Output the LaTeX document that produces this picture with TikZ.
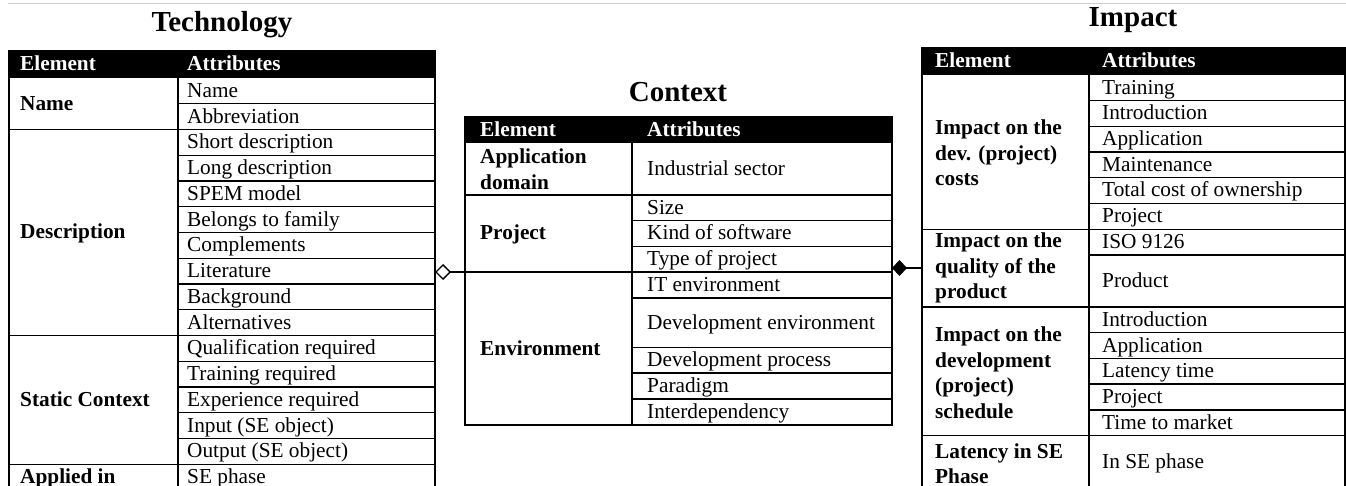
\documentclass[tikz,border=0pt]{standalone}
\usepackage{fontspec}
\setmainfont{Liberation Serif}
\usetikzlibrary{arrows.meta}
\begin{document}
\begin{tikzpicture}[x=1pt,y=-1pt,
  tbl/.style={line width=1.3pt},
  attr/.style={anchor=base west, inner sep=0pt, font=\fontsize{21.3}{25.5}\selectfont},
  elemone/.style={anchor=base west, inner sep=0pt, font=\fontsize{21.3}{25.5}\selectfont\bfseries},
  elemm/.style={anchor=west, inner sep=0pt, align=left, font=\fontsize{21.3}{25.5}\selectfont\bfseries},
  hdr/.style={anchor=base west, inner sep=0pt, text=white, font=\fontsize{21.3}{25.5}\selectfont\bfseries},
  ttl/.style={inner sep=0pt, font=\fontsize{29}{34}\selectfont\bfseries},
  conn/.style={line width=1.3pt},
]
\useasboundingbox (0,0) rectangle (1346,486);
\clip (0,0) rectangle (1346,486);
\draw[black!20, line width=1pt] (8,4) -- (1346,4);

% ---------------- Technology ----------------
\node[ttl] (ttech) at (222,25) {Technology};
\fill (9,51) rectangle (435,78);
\node[hdr] (the) at (20,71) {Element};
\node[hdr] (tha) at (187,71) {Attributes};
\draw[tbl] (9,51) rectangle (435,492);
\draw[tbl] (178,51) -- (178,492);
\foreach \y in {129.5,335.5,464.25} \draw[tbl] (9,\y) -- (435,\y);
\foreach \y in {103.75,155.25,181,206.75,232.5,258.25,284,309.75,361.25,387,412.75,438.5}
  \draw[tbl] (178,\y) -- (435,\y);
\foreach \t [count=\i from 0] in {Name,Abbreviation,Short description,Long description,SPEM model,Belongs to family,Complements,Literature,Background,Alternatives,Qualification required,Training required,Experience required,{Input (SE object)},{Output (SE object)},SE phase}
  \node[attr] (ta\i) at (187,{78+25.75*\i+12.875+6.5}) {\t};
\node[elemone] (te1) at (20,110.25) {Name};
\node[elemone] (te2) at (20,239) {Description};
\node[elemone] (te3) at (20,406.4) {Static Context};
\node[elemone] (te4) at (20,483.6) {Applied in};

% ---------------- Context ----------------
\node[ttl] (tctx) at (678,92) {Context};
\fill (465,117) rectangle (892,143);
\node[hdr] (che) at (480,136.5) {Element};
\node[hdr] (cha) at (647,136.5) {Attributes};
\draw[tbl] (465,117) rectangle (892,425);
\draw[tbl] (632,117) -- (632,425);
\foreach \y in {195,272} \draw[tbl] (465,\y) -- (892,\y);
\foreach \y in {220.7,246.3,298,347.5,373,399} \draw[tbl] (632,\y) -- (892,\y);
\foreach \t/\yy [count=\i] in {Industrial sector/175.5,Size/214.35,Kind of software/240,Type of project/265.65,IT environment/291.5,Development environment/329.25,Development process/366.75,Paradigm/392.5,Interdependency/418.5}
  \node[attr] (ca\i) at (647,\yy) {\t};
\node[elemm] (ce1) at (480,169) {Application\\domain};
\node[elemone] (ce2) at (480,240) {Project};
\node[elemone] (ce3) at (480,355) {Environment};

% ---------------- Impact ----------------
\node[ttl] (timp) at (1133,20) {Impact};
\fill (922,48) rectangle (1345,75);
\node[hdr] (ihe) at (935,68) {Element};
\node[hdr] (iha) at (1102,68) {Attributes};
\draw[tbl] (922,48) rectangle (1345,490);
\draw[tbl] (1089,48) -- (1089,490);
\foreach \y in {229.5,307,435.7} \draw[tbl] (922,\y) -- (1345,\y);
\foreach \y in {100.7,126.3,152,177.7,203.3,255,332.7,358.4,384,410} \draw[tbl] (1089,\y) -- (1345,\y);
\foreach \t/\yy [count=\i] in {Training/94.35,Introduction/120,Application/145.65,Maintenance/171.35,Total cost of ownership/197,Project/222.9,ISO 9126/248.75,Product/287.5,Introduction/326.35,Application/352.05,Latency time/377.7,Project/403.5,Time to market/429.35,In SE phase/468.35}
  \node[attr] (ia\i) at (1102,\yy) {\t};
\node[elemm] (ie1) at (935,153) {Impact on the\\dev. (project)\\costs};
\node[elemm] (ie2) at (935,268.25) {Impact on the\\quality of the\\product};
\node[elemm] (ie3) at (935,372.5) {Impact on the\\development\\(project)\\schedule};
\node[elemm] (ie4) at (935,463.5) {Latency in SE\\Phase};

% ---------------- Connectors ----------------
\coordinate (techE) at (435,272);
\coordinate (ctxW) at (465,272);
\coordinate (ctxE) at (892,268);
\coordinate (impW) at (922,268);
\draw[conn, {Diamond[open,length=16pt,width=16pt,line width=1.3pt]}-] (techE) -- (ctxW);
\draw[conn, {Diamond[length=15pt,width=16pt]}-] (ctxE) -- (impW);
\end{tikzpicture}
\end{document}
